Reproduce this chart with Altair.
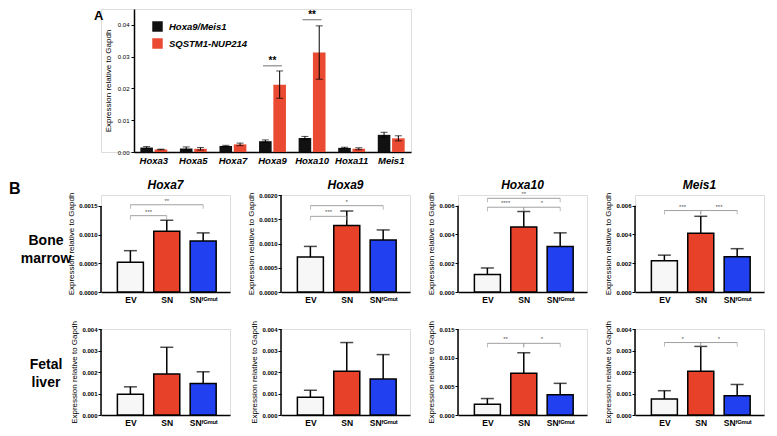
import altair as alt
import pandas as pd

FONT = "Liberation Sans"
YTITLE = "Expression relative to Gapdh"

# ---------------- Panel A data ----------------
genes_a = ["Hoxa3", "Hoxa5", "Hoxa7", "Hoxa9", "Hoxa10", "Hoxa11", "Meis1"]
series_a = ["Hoxa9/Meis1", "SQSTM1-NUP214"]
hm_mean = [0.0014, 0.0011, 0.0019, 0.0034, 0.0044, 0.0013, 0.0054]
hm_err = [0.0003, 0.0005, 0.0002, 0.0004, 0.0005, 0.0002, 0.0008]
sn_mean = [0.0008, 0.0010, 0.0024, 0.0212, 0.0313, 0.0010, 0.0043]
sn_err = [0.0001, 0.0004, 0.0004, 0.0043, 0.0084, 0.0003, 0.0008]
sig_a_gene = ["Hoxa9", "Hoxa10"]
sig_a_level = [0.0271, 0.0416]
sig_a_label = ["**", "**"]
a_ticks = [0.0, 0.01, 0.02, 0.03, 0.04]
a_colors = ["#111111", "#ea4a31"]

# ---------------- Panel B data ----------------
groups = ["EV", "SN", "SNᶠᴳᵐᵘᵗ"]
group_pos = [0, 1, 2]
b_colors = ["#f7f7f7", "#e8412a", "#2141f0"]
b_titles = ["Hoxa7", "Hoxa9", "Hoxa10", "Meis1"]
row_labels = [["Bone", "marrow"], ["Fetal", "liver"]]
panel_letters = ["A", "B"]

bm_hoxa7 = [0.00052, 0.00106, 0.00089]
bm_hoxa7_top = [0.00072, 0.00125, 0.00103]
bm_hoxa9 = [0.00072, 0.00137, 0.00107]
bm_hoxa9_top = [0.00094, 0.00167, 0.00128]
bm_hoxa10 = [0.00122, 0.00451, 0.00316]
bm_hoxa10_top = [0.00167, 0.00560, 0.00411]
bm_meis1 = [0.00218, 0.00409, 0.00245]
bm_meis1_top = [0.00256, 0.00526, 0.00301]

fl_hoxa7 = [0.00097, 0.00191, 0.00146]
fl_hoxa7_top = [0.00131, 0.00315, 0.00201]
fl_hoxa9 = [0.00082, 0.00203, 0.00167]
fl_hoxa9_top = [0.00115, 0.00337, 0.00281]
fl_hoxa10 = [0.00187, 0.00728, 0.00353]
fl_hoxa10_top = [0.00287, 0.01087, 0.00552]
fl_meis1 = [0.00075, 0.00203, 0.00090]
fl_meis1_top = [0.00113, 0.00319, 0.00142]

# brackets: (from, to, level, label)
brk_bm_hoxa7 = [(0, 1, 0.00133, "***"), (0, 2, 0.00152, "**")]
brk_bm_hoxa9 = [(0, 1, 0.00156, "***"), (0, 2, 0.00178, "*")]
brk_bm_hoxa10 = [(0, 1, 0.00589, "****"), (1, 2, 0.00589, "*"), (0, 2, 0.00651, "**")]
brk_bm_meis1 = [(0, 1, 0.00566, "***"), (1, 2, 0.00566, "***")]
brk_fl_hoxa7 = []
brk_fl_hoxa9 = []
brk_fl_hoxa10 = [(0, 1, 0.0125, "**"), (1, 2, 0.0125, "*")]
brk_fl_meis1 = [(0, 1, 0.00337, "*"), (1, 2, 0.00337, "*")]

# axis tops / ticks per panel
bm_ticks = [[0, 0.0005, 0.0010, 0.0015], [0, 0.0005, 0.0010, 0.0015, 0.0020],
            [0, 0.002, 0.004, 0.006], [0, 0.002, 0.004, 0.006]]
bm_fmt = [".4f", ".4f", ".3f", ".3f"]
bm_ymax = [0.00169, 0.0020, 0.00674, 0.00674]
fl_ticks = [[0, 0.001, 0.002, 0.003, 0.004], [0, 0.001, 0.002, 0.003, 0.004],
            [0, 0.005, 0.010, 0.015], [0, 0.001, 0.002, 0.003, 0.004]]
fl_fmt = [".3f", ".3f", ".3f", ".3f"]
fl_ymax = [0.004, 0.004, 0.015, 0.004]

W_B = 129
H_R1 = 97
H_R2 = 86

# ---------------- Panel A chart ----------------
A_SHIFT = 33   # panel A's axis sits to the right of panel B's first axis
A_W = 310

dfa = pd.DataFrame({
    "gene": genes_a * 2,
    "series": [series_a[0]] * len(genes_a) + [series_a[1]] * len(genes_a),
    "mean": hm_mean + sn_mean,
    "err": hm_err + sn_err,
})
xa_scale = alt.Scale(domain=genes_a, paddingInner=0.32, paddingOuter=0.16,
                     range=[A_SHIFT, A_W])
xa_axis = alt.Axis(labelAngle=0, ticks=False, domainWidth=1.5, domainColor="black",
                   labelFontSize=9.5, labelFontWeight="bold", labelFontStyle="italic",
                   labelColor="black", labelPadding=3, grid=False)
xo_scale = alt.Scale(domain=series_a, paddingInner=0.12)
ya_scale = alt.Scale(domain=[0, 0.045], nice=False, zero=True)
ya_axis = alt.Axis(values=a_ticks, format=".2f", tickSize=3, tickColor="black",
                   domainWidth=1.5, domainColor="black", labelFontSize=6,
                   labelColor="black", labelPadding=2, titleFontSize=8,
                   titleFontWeight="normal", titleColor="black", titlePadding=5, grid=False,
                   offset=-A_SHIFT)


def XA():
    return alt.X("gene:N", scale=xa_scale, axis=xa_axis, title=None)


def XO():
    return alt.XOffset("series:N", scale=xo_scale)


def YA(field):
    return alt.Y(f"{field}:Q", scale=ya_scale, axis=ya_axis, title=YTITLE)


bars_a = alt.Chart(dfa).mark_bar().encode(
    x=XA(), xOffset=XO(), y=YA("mean"),
    color=alt.Color("series:N", scale=alt.Scale(domain=series_a, range=a_colors),
                    legend=alt.Legend(orient="none", legendX=A_SHIFT + 18, legendY=12,
                                      title=None, symbolType="square", symbolSize=110,
                                      symbolStrokeWidth=0, labelFontSize=9.5,
                                      labelFontStyle="italic", labelFontWeight="bold",
                                      labelColor="black", rowPadding=6, labelOffset=6)),
)
err_base = alt.Chart(dfa).transform_calculate(lo="datum.mean - datum.err",
                                              hi="datum.mean + datum.err")
err_a = err_base.mark_rule(color="black", strokeWidth=1).encode(
    x=XA(), xOffset=XO(), y=YA("lo"), y2=alt.Y2("hi:Q"))
cap_lo = err_base.mark_tick(color="black", orient="horizontal", size=7, thickness=1).encode(
    x=XA(), xOffset=XO(), y=YA("lo"))
cap_hi = err_base.mark_tick(color="black", orient="horizontal", size=7, thickness=1).encode(
    x=XA(), xOffset=XO(), y=YA("hi"))
dfsig = pd.DataFrame({"gene": sig_a_gene, "level": sig_a_level, "label": sig_a_label})
sig_line = alt.Chart(dfsig).mark_tick(color="black", orient="horizontal", size=19,
                                      thickness=0.8).encode(x=XA(), y=YA("level"))
sig_txt = alt.Chart(dfsig).mark_text(fontSize=10, fontWeight="bold", dy=-5,
                                     color="black").encode(x=XA(), y=YA("level"), text="label:N")
one = pd.DataFrame({"a": [0]})
letter_a = alt.Chart(one).mark_text(
    fontSize=13, fontWeight="bold", align="left", baseline="top", color="black"
).encode(x=alt.value(A_SHIFT - 40), y=alt.value(1), text=alt.value(panel_letters[0]))

panel_a = alt.layer(bars_a, err_a, cap_lo, cap_hi, sig_line, sig_txt, letter_a).properties(
    width=A_W, height=143)


# ---------------- Panel B charts ----------------
label_expr = "[" + ",".join("'" + g + "'" for g in groups) + "][datum.value]"


def panel_b(means, tops, brackets, ticks, fmt, ymax, height, title=None, extras=()):
    df = pd.DataFrame({"pos": group_pos, "grp": groups, "mean": means, "top": tops,
                       "fill": b_colors})
    xs = alt.Scale(domain=[-0.67, 2.6], nice=False, zero=False)
    xax = alt.Axis(values=group_pos, labelExpr=label_expr, ticks=False, grid=False,
                   domainWidth=1.5, domainColor="black", labelFontSize=8.5,
                   labelFontWeight="bold", labelColor="black", labelPadding=3,
                   labelFlush=False, labelOverlap=False)
    ys = alt.Scale(domain=[0, ymax], nice=False, zero=True)
    yax = alt.Axis(values=ticks, format=fmt, domain=False, tickSize=3, tickWidth=1,
                   tickColor="black", labelFontSize=6, labelFontWeight="bold",
                   labelColor="black", labelPadding=1, titleFontSize=8,
                   titleFontWeight="normal", titleColor="black", titlePadding=3, grid=False)

    def X(f):
        return alt.X(f"{f}:Q", scale=xs, axis=xax, title=None)

    def Y(f):
        return alt.Y(f"{f}:Q", scale=ys, axis=yax, title=YTITLE)

    bars = alt.Chart(df).mark_bar(size=26, stroke="black", strokeWidth=1.5).encode(
        x=X("pos"), y=Y("mean"), color=alt.Color("fill:N", scale=None, legend=None))
    err = alt.Chart(df).mark_rule(color="black", strokeWidth=1.5).encode(
        x=X("pos"), y=Y("mean"), y2=alt.Y2("top:Q"))
    cap = alt.Chart(df).mark_tick(color="black", orient="horizontal", size=13,
                                  thickness=1.5).encode(x=X("pos"), y=Y("top"))
    yline = alt.Chart(pd.DataFrame({"y0": [0], "y1": [ticks[-1]]})).mark_rule(
        color="black", strokeWidth=1.5).encode(x=alt.value(0), y=Y("y0"), y2=alt.Y2("y1:Q"))
    layers = [bars, err, cap, yline]
    if brackets:
        dfb = pd.DataFrame(brackets, columns=["x1", "x2", "level", "label"])
        bl = alt.Chart(dfb).mark_rule(color="#888888", strokeWidth=0.8).encode(
            x=X("x1"), x2=alt.X2("x2:Q"), y=Y("level"))
        be = alt.Chart(dfb).transform_fold(["x1", "x2"], as_=["k", "xv"]).mark_tick(
            color="#888888", orient="vertical", size=4, thickness=0.8, yOffset=2).encode(
            x=X("xv"), y=Y("level"))
        bt = alt.Chart(dfb).transform_calculate(mid="(datum.x1 + datum.x2) / 2").mark_text(
            fontSize=6, dy=-4, color="#555555").encode(x=X("mid"), y=Y("level"), text="label:N")
        layers += [bl, be, bt]
    if title:
        layers.append(alt.Chart(one).mark_text(
            fontSize=12, fontStyle="italic", fontWeight="bold", align="center",
            baseline="middle", color="black").encode(
            x=alt.value(W_B / 2), y=alt.value(-10), text=alt.value(title)))
    layers += list(extras)
    return alt.layer(*layers).properties(width=W_B, height=height)


letter_b = alt.Chart(one).mark_text(fontSize=16, fontWeight="bold", align="left",
                                    baseline="top", color="black").encode(
    x=alt.value(-92), y=alt.value(-14), text=alt.value(panel_letters[1]))
lab_bm = alt.Chart(one).mark_text(fontSize=14, fontWeight="bold", align="center",
                                  baseline="middle", lineHeight=18, color="black").encode(
    x=alt.value(-55), y=alt.value(46), text=alt.value(row_labels[0]))
lab_fl = alt.Chart(one).mark_text(fontSize=14, fontWeight="bold", align="center",
                                  baseline="middle", lineHeight=18, color="black").encode(
    x=alt.value(-55), y=alt.value(36), text=alt.value(row_labels[1]))

bm_data = [(bm_hoxa7, bm_hoxa7_top, brk_bm_hoxa7), (bm_hoxa9, bm_hoxa9_top, brk_bm_hoxa9),
           (bm_hoxa10, bm_hoxa10_top, brk_bm_hoxa10), (bm_meis1, bm_meis1_top, brk_bm_meis1)]
fl_data = [(fl_hoxa7, fl_hoxa7_top, brk_fl_hoxa7), (fl_hoxa9, fl_hoxa9_top, brk_fl_hoxa9),
           (fl_hoxa10, fl_hoxa10_top, brk_fl_hoxa10), (fl_meis1, fl_meis1_top, brk_fl_meis1)]

cells = []
for i, (m, t, b) in enumerate(bm_data):
    extras = (letter_b, lab_bm) if i == 0 else ()
    cells.append(panel_b(m, t, b, bm_ticks[i], bm_fmt[i], bm_ymax[i], H_R1,
                         title=b_titles[i], extras=extras))
for i, (m, t, b) in enumerate(fl_data):
    extras = (lab_fl,) if i == 0 else ()
    cells.append(panel_b(m, t, b, fl_ticks[i], fl_fmt[i], fl_ymax[i], H_R2, extras=extras))

grid_b = alt.concat(*cells, columns=4, spacing=16).properties(align="each")

chart = alt.vconcat(panel_a, grid_b, spacing=13).properties(
    padding={"left": 0, "top": 0, "right": 0, "bottom": 0}
).resolve_scale(color="independent").configure_view(stroke=None).configure(font=FONT)

chart.save("out.html", embed_options={"renderer": "svg", "actions": False})
